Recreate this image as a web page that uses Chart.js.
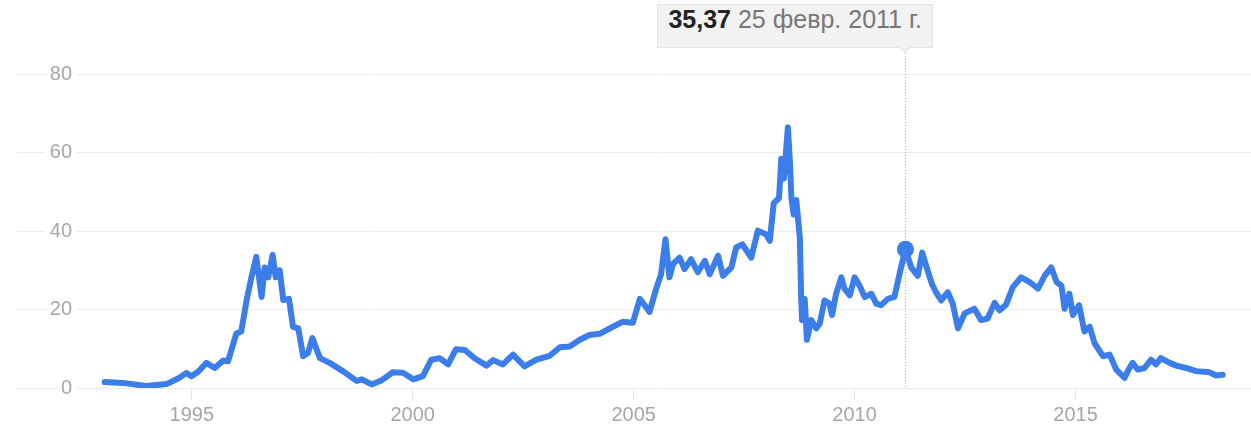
<!DOCTYPE html>
<html>
<head>
<meta charset="utf-8">
<script src="https://cdn.jsdelivr.net/npm/chart.js@4"></script>
<style>
  body { margin: 0; background: #fff; }
  #wrap { position: relative; width: 1251px; height: 431px; }
  #tip {
    position: absolute; top: 4px; height: 42px; line-height: 42px;
    padding: 0 10px; background: #f2f2f2; border: 1px solid #e4e4e4;
    font: 25px Arial, "Liberation Sans", sans-serif; white-space: nowrap;
  }
  #tip b { color: #222; }
  #tip span { color: #777; }
  #notch {
    position: absolute; top: 41px; width: 9px; height: 9px;
    background: #f2f2f2; border-right: 1px solid #e4e4e4; border-bottom: 1px solid #e4e4e4;
    transform: rotate(45deg);
  }
</style>
</head>
<body>
<div id="wrap">
  <canvas id="chart"></canvas>
  <div id="tip"></div>
  <div id="notch"></div>
</div>
<script>
// decimal years and values
const years = [
  1993.03, 1993.44, 1993.97, 1994.43, 1994.70, 1994.88, 1994.99, 1995.15, 1995.33, 1995.52,
  1995.71, 1995.82, 1996.01, 1996.12, 1996.24, 1996.35, 1996.46, 1996.58, 1996.65, 1996.73,
  1996.83, 1996.90, 1996.99, 1997.07, 1997.20, 1997.29, 1997.41, 1997.52, 1997.63, 1997.73,
  1997.90, 1998.12, 1998.42, 1998.73, 1998.85, 1999.07, 1999.30, 1999.55, 1999.78, 2000.01,
  2000.23, 2000.42, 2000.61, 2000.80, 2000.98, 2001.18, 2001.40, 2001.67, 2001.82, 2002.04,
  2002.27, 2002.53, 2002.80, 2003.10, 2003.33, 2003.55, 2003.78, 2004.00, 2004.23, 2004.53,
  2004.76, 2004.98, 2005.14, 2005.36, 2005.51, 2005.62, 2005.72, 2005.81, 2005.89, 2006.04,
  2006.15, 2006.30, 2006.45, 2006.61, 2006.72, 2006.91, 2007.02, 2007.21, 2007.32, 2007.46,
  2007.66, 2007.81, 2008.00, 2008.08, 2008.17, 2008.29, 2008.34, 2008.40, 2008.49, 2008.54,
  2008.57, 2008.62, 2008.68, 2008.76, 2008.79, 2008.81, 2008.87, 2008.92, 2009.02, 2009.13,
  2009.21, 2009.32, 2009.43, 2009.49, 2009.58, 2009.70, 2009.77, 2009.89, 2010.00, 2010.11,
  2010.23, 2010.38, 2010.49, 2010.60, 2010.75, 2010.90, 2011.05, 2011.15, 2011.28, 2011.43,
  2011.53, 2011.63, 2011.75, 2011.84, 2011.96, 2012.11, 2012.22, 2012.34, 2012.49, 2012.71,
  2012.86, 2013.01, 2013.17, 2013.28, 2013.43, 2013.58, 2013.77, 2013.96, 2014.15, 2014.30,
  2014.45, 2014.57, 2014.68, 2014.75, 2014.86, 2014.94, 2015.08, 2015.20, 2015.32, 2015.43,
  2015.62, 2015.77, 2015.92, 2016.11, 2016.18, 2016.29, 2016.41, 2016.56, 2016.71, 2016.82,
  2016.93, 2017.13, 2017.28, 2017.50, 2017.73, 2018.03, 2018.18, 2018.33
];
const values = [
  1.5, 1.3, 0.5, 1.0, 2.5, 3.8, 3.0, 4.2, 6.4, 5.1,
  7.0, 6.8, 13.9, 14.4, 22.3, 28.2, 33.4, 23.2, 30.7, 28.2,
  33.9, 28.2, 30.0, 22.4, 22.7, 15.6, 15.2, 8.1, 8.9, 12.7,
  7.6, 6.4, 4.3, 1.8, 2.2, 0.9, 2.0, 4.0, 3.9, 2.2,
  3.0, 7.2, 7.6, 6.0, 9.9, 9.7, 7.6, 5.7, 7.1, 6.0,
  8.5, 5.5, 7.2, 8.2, 10.4, 10.6, 12.3, 13.5, 13.8, 15.6,
  16.9, 16.6, 22.7, 19.4, 25.3, 29.0, 37.9, 28.2, 31.6, 33.2,
  30.3, 32.8, 29.5, 32.4, 29.0, 33.7, 28.6, 30.7, 35.8, 36.6,
  33.2, 40.1, 39.1, 37.5, 47.1, 48.4, 58.4, 53.4, 66.4, 56.7,
  48.4, 44.2, 47.9, 38.3, 23.2, 17.3, 22.7, 12.3, 17.3, 15.2,
  16.4, 22.3, 21.5, 18.6, 24.0, 28.2, 25.3, 23.6, 28.2, 26.1,
  23.2, 24.0, 21.5, 21.1, 22.7, 23.2, 30.7, 35.37, 30.7, 28.6,
  34.5, 30.7, 26.5, 24.4, 22.3, 24.4, 21.5, 15.2, 19.0, 20.2,
  17.3, 17.7, 21.7, 19.8, 21.3, 25.7, 28.2, 27.0, 25.3, 28.6,
  30.7, 27.0, 26.1, 20.2, 24.0, 18.6, 21.1, 14.4, 15.6, 11.4,
  8.1, 8.5, 4.7, 2.6, 4.3, 6.4, 4.7, 5.1, 7.2, 6.0,
  7.6, 6.4, 5.7, 5.1, 4.3, 4.0, 3.2, 3.4
];
const xTicks = [1995, 2000, 2005, 2010, 2015];
const yTicks = [0, 20, 40, 60, 80];

// hovered point shown in the tooltip
const hoverYear = 2011.15;
const hoverLabel = '25 февр. 2011 г.';
const hoverIndex = years.indexOf(hoverYear);

const blue = '#3b7de9';

const hoverLine = {
  id: 'hoverLine',
  beforeDatasetsDraw(chart) {
    const ctx = chart.ctx;
    const x = Math.round(chart.scales.x.getPixelForValue(hoverYear)) + 0.5;
    ctx.save();
    ctx.strokeStyle = '#a8a8a8';
    ctx.lineWidth = 1;
    ctx.setLineDash([1, 2]);
    ctx.beginPath();
    ctx.moveTo(x, 53);
    ctx.lineTo(x, chart.chartArea.bottom);
    ctx.stroke();
    ctx.restore();
  }
};

Chart.defaults.font.family = 'Arial, "Liberation Sans", sans-serif';

const chart = new Chart(document.getElementById('chart'), {
  type: 'line',
  data: {
    datasets: [{
      data: years.map((y, i) => ({ x: y, y: values[i] })),
      borderColor: blue,
      borderWidth: 6,
      borderJoinStyle: 'round',
      borderCapStyle: 'round',
      tension: 0,
      pointRadius: ctx => ctx.dataIndex === hoverIndex ? 8.5 : 0,
      pointBackgroundColor: blue,
      pointBorderWidth: 0
    }]
  },
  options: {
    responsive: true,
    maintainAspectRatio: false,
    animation: false,
    events: [],
    layout: { padding: { left: 17, top: 74, right: 0, bottom: 0 } },
    plugins: { legend: { display: false }, tooltip: { enabled: false } },
    scales: {
      x: {
        type: 'linear',
        min: 1992.38,
        max: 2018.97,
        afterBuildTicks: s => { s.ticks = xTicks.map(v => ({ value: v })); },
        ticks: { color: '#a6a6a6', font: { size: 20 }, padding: 4, maxRotation: 0, callback: v => String(v) },
        grid: { drawOnChartArea: false, drawTicks: true, tickLength: 11, color: '#e2e2e2' },
        border: { display: false }
      },
      y: {
        min: 0,
        max: 80,
        afterBuildTicks: s => { s.ticks = yTicks.map(v => ({ value: v })); },
        afterFit: s => { s.width = 59; },
        ticks: {
          color: '#a6a6a6', font: { size: 20 }, padding: -55,
          showLabelBackdrop: true, backdropColor: '#fff',
          backdropPadding: { top: 1, bottom: 1, left: 4, right: 4 }
        },
        grid: { color: '#ececec', tickLength: 59 },
        border: { display: false }
      }
    }
  },
  plugins: [hoverLine]
});

// tooltip box placed from the scale's pixel for the hovered point
const tip = document.getElementById('tip');
const fmt = new Intl.NumberFormat('ru-RU', { minimumFractionDigits: 2 });
tip.innerHTML = '<b>' + fmt.format(values[hoverIndex]) + '</b> <span>' + hoverLabel + '</span>';
const px = chart.scales.x.getPixelForValue(hoverYear);
tip.style.left = (px + 28 - tip.offsetWidth) + 'px';
document.getElementById('notch').style.left = (px - 5) + 'px';
</script>
</body>
</html>
